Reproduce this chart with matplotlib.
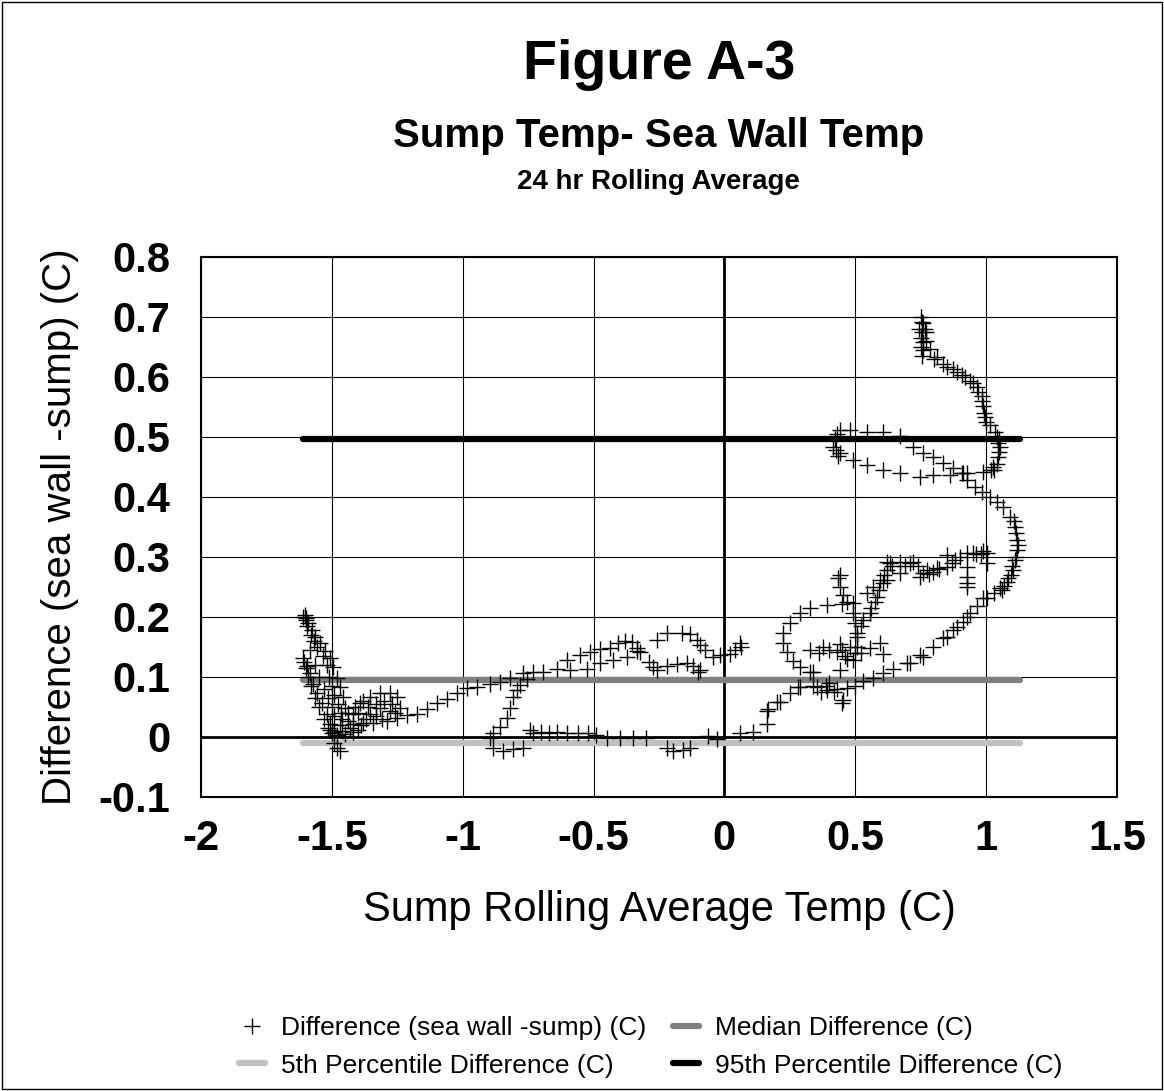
import matplotlib
matplotlib.use("Agg")
import matplotlib.pyplot as plt
from matplotlib.patches import Rectangle

plt.rcParams["font.family"] = ["Liberation Sans", "DejaVu Sans"]

# ---- data -----------------------------------------------------------
# (sump rolling avg temp, sea wall - sump difference) pairs
diff_points = [
    # left cluster, first branch
    (-1.603, 0.203), (-1.61, 0.200), (-1.597, 0.198), (-1.59, 0.190), (-1.576, 0.178),
    (-1.564, 0.166), (-1.545, 0.156), (-1.526, 0.144), (-1.507, 0.131), (-1.495, 0.116),
    (-1.48, 0.099), (-1.469, 0.083), (-1.457, 0.066), (-1.45, 0.049),
    (-1.60, 0.195), (-1.595, 0.185), (-1.58, 0.170), (-1.57, 0.160), (-1.555, 0.150),
    (-1.535, 0.135), (-1.52, 0.120), (-1.51, 0.100), (-1.50, 0.085), (-1.49, 0.070),
    (-1.475, 0.055), (-1.465, 0.040),
    # left cluster, second branch
    (-1.61, 0.131), (-1.605, 0.125), (-1.595, 0.119), (-1.584, 0.106), (-1.572, 0.089),
    (-1.557, 0.073), (-1.538, 0.056), (-1.519, 0.039), (-1.507, 0.022), (-1.50, 0.006),
    (-1.585, 0.145), (-1.565, 0.120), (-1.55, 0.100), (-1.53, 0.080), (-1.515, 0.065),
    (-1.50, 0.050), (-1.49, 0.035),
    (-1.60, 0.115), (-1.59, 0.100), (-1.58, 0.085), (-1.565, 0.065), (-1.55, 0.050),
    (-1.53, 0.030), (-1.515, 0.015),
    (-1.48, -0.018), (-1.469, -0.023), (-1.49, -0.010),
    (-1.507, 0.012), (-1.49, 0.008), (-1.48, 0.003), (-1.46, 0.010), (-1.45, 0.005),
    (-1.43, 0.015), (-1.42, 0.008), (-1.40, 0.012), (-1.39, 0.020),
    (-1.47, 0.020), (-1.46, 0.030), (-1.44, 0.040), (-1.41, 0.050), (-1.38, 0.060),
    # swirl
    (-1.42, 0.039), (-1.392, 0.056), (-1.354, 0.066), (-1.316, 0.073), (-1.278, 0.074),
    (-1.25, 0.066), (-1.24, 0.049), (-1.25, 0.032), (-1.29, 0.027), (-1.342, 0.024),
    (-1.38, 0.024), (-1.42, 0.022), (-1.44, 0.027), (-1.316, 0.049), (-1.278, 0.044),
    (-1.354, 0.039), (-1.33, 0.055), (-1.36, 0.050), (-1.30, 0.060), (-1.40, 0.040),
    (-1.37, 0.030), (-1.33, 0.035), (-1.31, 0.030), (-1.27, 0.055), (-1.26, 0.040),
    # trail to the right
    (-1.213, 0.036), (-1.175, 0.039), (-1.136, 0.047), (-1.098, 0.056), (-1.06, 0.064),
    (-1.02, 0.073), (-0.984, 0.081), (-0.945, 0.083), (-0.896, 0.089), (-0.857, 0.091),
    (-0.82, 0.099), (-0.77, 0.106), (-0.73, 0.108), (-0.693, 0.108), (-0.64, 0.114),
    (-0.601, 0.128), (-0.552, 0.136), (-0.514, 0.141), (-0.475, 0.146), (-0.437, 0.149),
    (-0.407, 0.156), (-0.38, 0.160), (-0.353, 0.158), (-0.334, 0.149), (-0.322, 0.141),
    (-0.29, 0.125), (-0.273, 0.116), (-0.258, 0.111), (-0.219, 0.119), (-0.18, 0.121),
    (-0.143, 0.123), (-0.12, 0.118), (-0.101, 0.108), (-0.093, 0.111),
    (-0.59, 0.111), (-0.525, 0.114), (-0.475, 0.123), (-0.426, 0.128), (-0.372, 0.133),
    (-0.334, 0.144),
    (-0.258, 0.161), (-0.219, 0.173), (-0.162, 0.173), (-0.13, 0.172), (-0.105, 0.161),
    (-0.093, 0.153), (-0.075, 0.145), (-0.044, 0.133), (-0.017, 0.136), (0.021, 0.139),
    (0.04, 0.145), (0.06, 0.156), (0.065, 0.150),
    # climb from the zero line
    (-0.896, -0.001), (-0.884, 0.006), (-0.857, 0.016), (-0.831, 0.032), (-0.82, 0.049),
    (-0.808, 0.066), (-0.793, 0.078), (-0.78, 0.086), (-0.754, 0.097),
    # flat run near zero
    (-0.743, 0.011), (-0.731, 0.006), (-0.70, 0.008), (-0.67, 0.007), (-0.64, 0.008),
    (-0.60, 0.006), (-0.56, 0.007), (-0.52, 0.006), (-0.49, 0.004), (-0.45, -0.001),
    (-0.40, -0.002), (-0.35, -0.001), (-0.30, -0.002), (-0.063, 0.002), (0.06, 0.006),
    (0.109, 0.008),
    (-0.884, -0.018), (-0.846, -0.023), (-0.808, -0.020), (-0.77, -0.018), (-0.22, -0.019),
    (-0.196, -0.023), (-0.16, -0.021), (-0.13, -0.019), (-0.03, -0.003),
    # rise past zero
    (0.163, 0.022), (0.163, 0.044), (0.167, 0.047), (0.20, 0.058), (0.212, 0.058),
    (0.251, 0.073), (0.281, 0.083), (0.289, 0.083),
    (0.339, 0.108), (0.354, 0.083), (0.392, 0.078), (0.442, 0.111), (0.453, 0.061),
    (0.468, 0.081), (0.34, 0.085), (0.40, 0.090), (0.43, 0.080), (0.50, 0.085),
    (0.45, 0.056), (0.39, 0.085), (0.42, 0.075), (0.37, 0.075),
    # long ascending arc on the right
    (0.53, 0.094), (0.568, 0.098), (0.606, 0.106), (0.644, 0.114), (0.698, 0.123),
    (0.709, 0.123), (0.747, 0.136), (0.759, 0.133), (0.797, 0.150), (0.835, 0.165),
    (0.851, 0.166), (0.874, 0.178), (0.889, 0.183), (0.912, 0.191), (0.927, 0.200),
    (0.939, 0.206), (0.965, 0.218), (0.988, 0.231), (1.003, 0.231), (1.03, 0.240),
    (1.053, 0.248), (1.08, 0.258), (1.103, 0.278), (1.11, 0.295), (1.118, 0.312),
    (1.118, 0.328), (1.11, 0.350), (1.09, 0.367), (1.065, 0.384), (1.04, 0.392),
    (1.015, 0.400), (0.985, 0.409), (0.958, 0.417), (0.927, 0.429), (0.908, 0.440),
    (1.115, 0.300), (1.12, 0.320), (1.115, 0.340), (1.105, 0.360), (1.10, 0.285),
    (1.095, 0.270), (1.085, 0.265), (1.07, 0.252), (1.06, 0.245),
    # loop around 0.5
    (0.415, 0.484), (0.442, 0.474), (0.491, 0.462), (0.545, 0.454), (0.606, 0.445),
    (0.671, 0.440), (0.747, 0.434), (0.797, 0.437), (0.862, 0.437), (0.927, 0.440),
    (0.988, 0.442), (1.026, 0.450), (1.045, 0.467), (1.053, 0.484), (1.05, 0.496),
    (0.423, 0.496), (0.442, 0.512), (0.48, 0.512), (0.545, 0.509), (0.606, 0.508),
    (0.671, 0.501), (0.721, 0.484), (0.759, 0.474), (0.797, 0.466), (0.835, 0.457),
    (0.874, 0.449), (0.912, 0.440),
    (1.04, 0.455), (1.05, 0.475), (1.045, 0.490), (1.04, 0.500), (1.03, 0.445),
    (1.02, 0.445), (0.43, 0.505), (0.425, 0.478), (0.435, 0.468),
    (1.034, 0.509), (1.015, 0.520), (0.996, 0.534), (0.988, 0.551), (0.984, 0.568),
    (0.965, 0.583), (0.939, 0.593), (0.908, 0.604), (0.874, 0.613), (0.835, 0.621),
    (0.812, 0.633), (0.786, 0.646), (0.759, 0.658), (0.755, 0.675), (0.755, 0.691),
    (0.752, 0.700), (0.765, 0.680), (0.76, 0.645), (0.755, 0.635),
    (0.75, 0.665), (0.76, 0.690), (0.77, 0.675), (0.745, 0.680), (0.75, 0.650),
    (0.77, 0.660), (0.80, 0.630), (0.85, 0.617), (0.89, 0.608), (0.92, 0.600),
    (0.95, 0.590), (0.97, 0.575), (0.985, 0.560), (0.99, 0.540), (1.00, 0.525),
    # middle-right swirl
    (0.621, 0.292), (0.633, 0.290), (0.671, 0.292), (0.709, 0.290), (0.721, 0.292),
    (0.774, 0.278), (0.812, 0.282), (0.85, 0.303), (0.90, 0.300), (0.927, 0.307),
    (0.95, 0.307), (0.987, 0.310), (1.003, 0.307), (1.003, 0.290), (0.927, 0.283),
    (0.927, 0.267), (0.927, 0.257), (0.927, 0.250),
    (0.621, 0.262), (0.671, 0.273), (0.747, 0.267), (0.759, 0.273), (0.797, 0.275),
    (0.851, 0.283), (0.87, 0.290),
    (0.64, 0.285), (0.69, 0.285), (0.74, 0.285), (0.78, 0.272), (0.82, 0.280),
    (0.88, 0.295), (0.96, 0.305), (0.98, 0.305),
    (0.49, 0.223), (0.45, 0.222), (0.392, 0.220), (0.327, 0.215), (0.289, 0.206),
    (0.251, 0.190), (0.224, 0.173), (0.224, 0.156), (0.239, 0.141), (0.262, 0.127),
    (0.289, 0.116), (0.327, 0.108),
    (0.507, 0.173), (0.53, 0.195), (0.545, 0.240), (0.556, 0.206), (0.568, 0.250),
    (0.583, 0.233), (0.595, 0.262), (0.606, 0.257), (0.621, 0.278),
    (0.52, 0.185), (0.56, 0.215), (0.575, 0.225), (0.59, 0.245), (0.61, 0.270),
    (0.442, 0.270), (0.435, 0.265), (0.442, 0.250), (0.453, 0.237), (0.468, 0.225),
    (0.49, 0.206), (0.50, 0.190), (0.507, 0.166), (0.507, 0.150),
    (0.327, 0.145), (0.377, 0.150), (0.43, 0.141), (0.48, 0.150), (0.49, 0.128),
    (0.556, 0.148), (0.595, 0.156), (0.606, 0.139), (0.40, 0.145), (0.46, 0.135),
    (0.52, 0.140), (0.45, 0.145), (0.47, 0.130), (0.50, 0.140), (0.44, 0.155),
    (0.36, 0.140),
]
sump_temp = [p[0] for p in diff_points]
difference = [p[1] for p in diff_points]

# reference levels span the range of sump temps
level_x = [-1.61, 1.13]
median_diff = 0.095
p5_diff = -0.010
p95_diff = 0.496

x_ticks = [-2, -1.5, -1, -0.5, 0, 0.5, 1, 1.5]
y_ticks = [-0.1, 0, 0.1, 0.2, 0.3, 0.4, 0.5, 0.6, 0.7, 0.8]

# ---- figure ----------------------------------------------------------
fig = plt.figure(figsize=(11.64, 10.91), dpi=100)
fig.patches.append(Rectangle((0.002, 0.002), 0.996, 0.996, transform=fig.transFigure,
                             fill=False, edgecolor="black", linewidth=1))
ax = fig.add_axes([201 / 1164, 1 - 797 / 1091, 916 / 1164, 540 / 1091])

h_diff, = ax.plot(sump_temp, difference, linestyle="none", marker="+",
                  markersize=11, markeredgewidth=1.0, color="black", zorder=4,
                  label="Difference (sea wall -sump) (C)")
h_med, = ax.plot(level_x, [median_diff] * 2, color="#808080", linewidth=4.5,
                 solid_capstyle="round", zorder=3, label="Median Difference (C)")
h_p5, = ax.plot(level_x, [p5_diff] * 2, color="#c0c0c0", linewidth=4.5,
                solid_capstyle="round", zorder=3, label="5th Percentile Difference (C)")
h_p95, = ax.plot(level_x, [p95_diff] * 2, color="black", linewidth=4.5,
                 solid_capstyle="round", zorder=3, label="95th Percentile Difference (C)")

ax.set_xlim(-2, 1.5)
ax.set_ylim(-0.1, 0.8)
ax.set_xticks(x_ticks)
ax.set_yticks(y_ticks)
ax.set_xticklabels([f"{v:g}" for v in x_ticks])
ax.set_yticklabels([f"{v:g}" for v in y_ticks])
ax.grid(True, color="black", linewidth=0.8)
ax.set_axisbelow(True)
ax.axhline(0, color="black", linewidth=2, zorder=2)
ax.axvline(0, color="black", linewidth=2, zorder=2)
for s in ax.spines.values():
    s.set_linewidth(1.5)
ax.tick_params(length=0, labelsize=30)
ax.tick_params(axis="x", pad=16)
ax.tick_params(axis="y", pad=22)
for lab in ax.get_xticklabels() + ax.get_yticklabels():
    lab.set_fontweight("bold")

ax.set_xlabel("Sump Rolling Average Temp (C)", fontsize=30, labelpad=22)
ax.set_ylabel("Difference (sea wall -sump) (C)", fontsize=29, labelpad=14)

fig.text(0.566, 1 - 65 / 1091, "Figure A-3", ha="center", va="center",
         fontsize=40, fontweight="bold")
fig.text(0.566, 1 - 136 / 1091, "Sump Temp- Sea Wall Temp", ha="center", va="center",
         fontsize=29, fontweight="bold")
fig.text(0.566, 1 - 182 / 1091, "24 hr Rolling Average", ha="center", va="center",
         fontsize=20, fontweight="bold")

fig.legend(handles=[h_diff, h_p5, h_med, h_p95], ncol=2, frameon=False,
           loc="center", bbox_to_anchor=(0.559, 1 - 1047 / 1091),
           fontsize=19, handlelength=1.0, handletextpad=0.6, columnspacing=1.0,
           labelspacing=0.5)

fig.savefig("out.png", dpi=100)
